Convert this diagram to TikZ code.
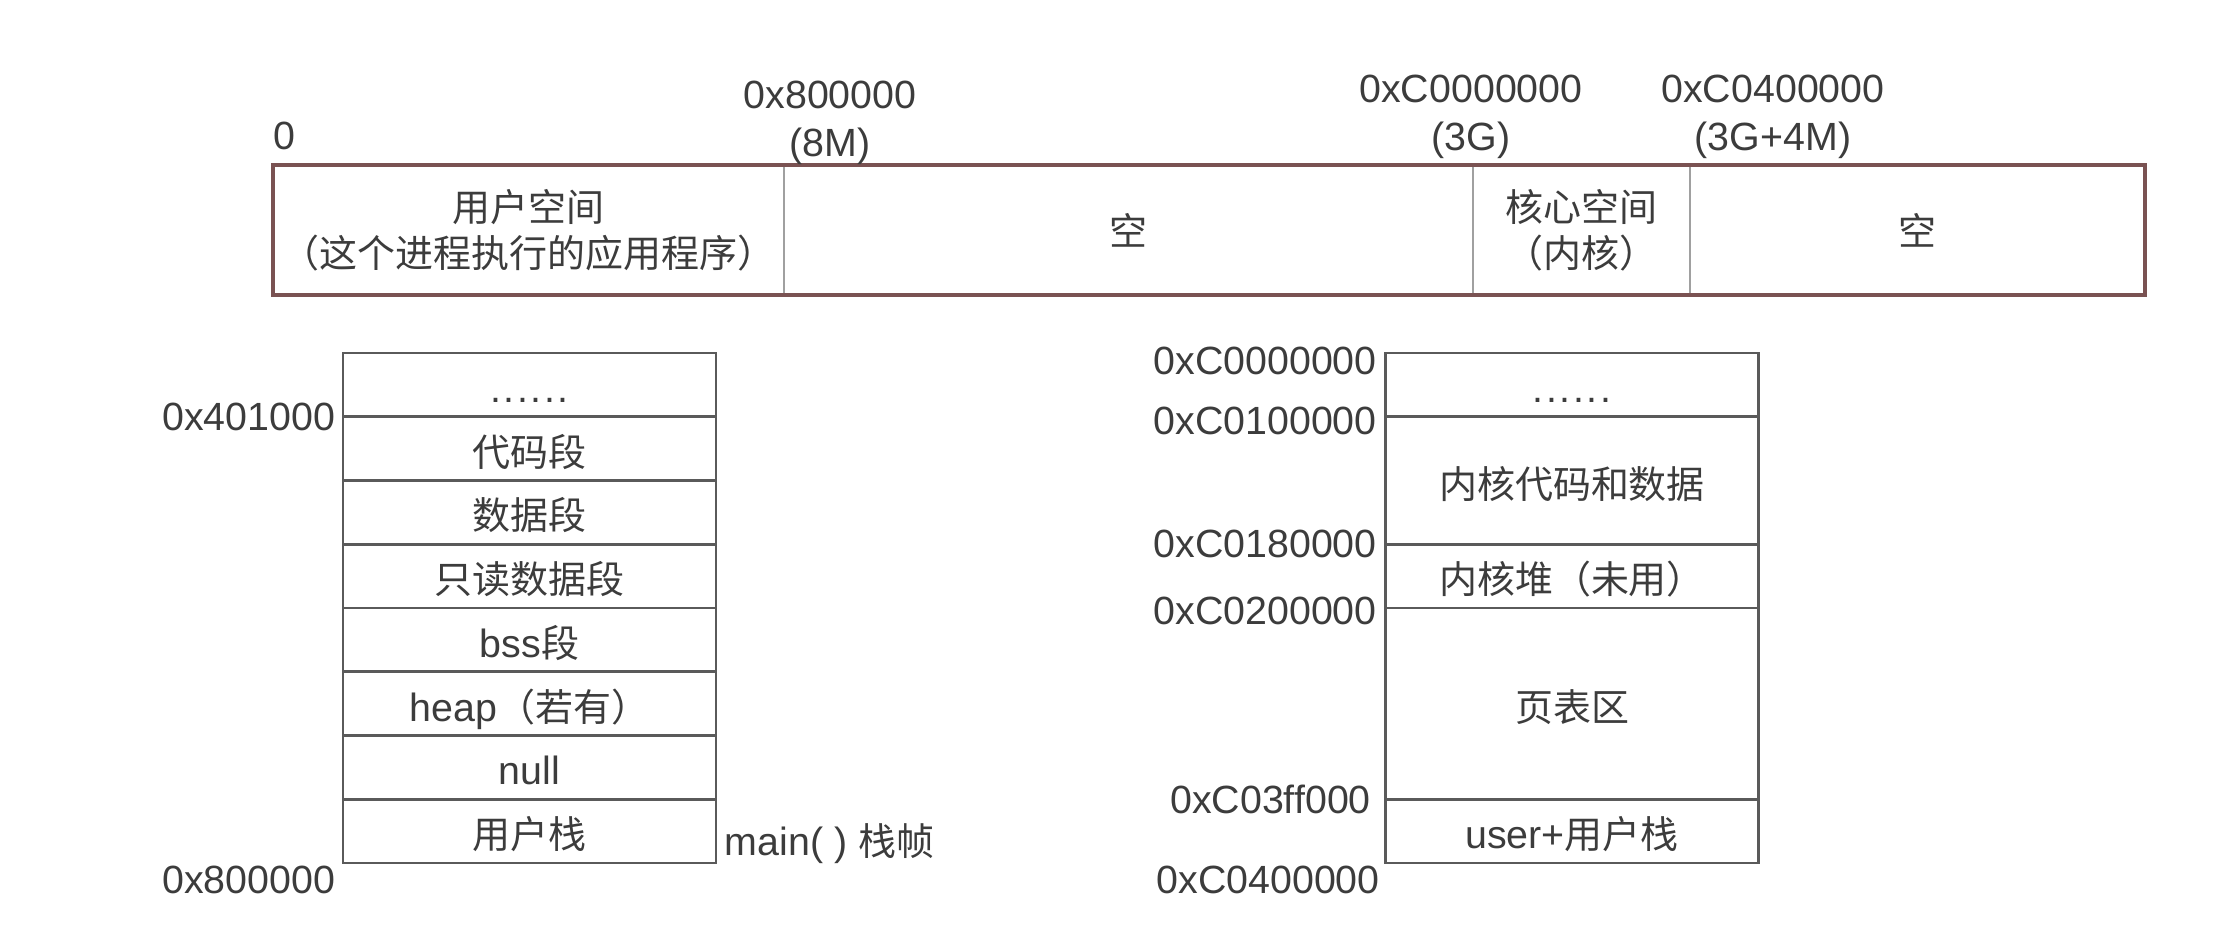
\documentclass[tikz,border=0pt]{standalone}
\usepackage{fontspec}
\setmainfont{Liberation Sans}
\newfontfamily\zhfont{Noto Sans CJK SC}[Scale=0.965]
\usetikzlibrary{positioning}
\definecolor{memText}{HTML}{3C3C3C}
\definecolor{memLine}{HTML}{5A5A5A}
\definecolor{memFrame}{HTML}{7A5252}
\definecolor{memDiv}{HTML}{A0A0A0}
\newcommand{\zh}[1]{{\zhfont #1}}
\newcommand{\gap}{.\kern0.026cm.\kern0.026cm.\kern0.026cm.\kern0.026cm.\kern0.026cm.}
\tikzset{
  barcell/.style={draw=memDiv, line width=0.5pt, minimum height=1.30cm,
        inner sep=0pt, outer sep=0pt, align=center, text=memText,
        font=\fontsize{11.2}{13.2}\selectfont},
  barframe/.style={draw=memFrame, line width=1.2pt},
  seg/.style={draw=memLine, line width=0.8pt, minimum width=3.73cm,
        inner sep=0pt, outer sep=0pt, align=center, text=memText,
        text height=0.38cm, text depth=0.03cm,
        font=\fontsize{11.2}{13}\selectfont},
  addr/.style={anchor=east, inner sep=0pt, text=memText,
        font=\fontsize{11.2}{13}\selectfont},
  toplab/.style={align=center, inner sep=0pt, text=memText,
        font=\fontsize{11.2}{13.6}\selectfont}
}

\begin{document}
\begin{tikzpicture}
\useasboundingbox (0,0) rectangle (22.14,-9.26);

\node[barcell, minimum width=5.11cm] (ucell) at (5.285,-2.30) {\zh{用户空间}\\\zh{（这个进程执行的应用程序）}};
\node[barcell, minimum width=6.89cm, right=0pt of ucell] (void1) {\zh{空}};
\node[barcell, minimum width=2.17cm, right=0pt of void1] (kcell) {\zh{核心空间}\\\zh{（内核）}};
\node[barcell, minimum width=4.55cm, right=0pt of kcell] (void2) {\zh{空}};
\draw[barframe] (ucell.north west) rectangle (void2.south east);

\node[toplab] (a0) at (2.84,-1.36) {0};
\node[toplab] (a8m) at (8.30,-1.227) {0x800000\\(8M)};
\node[toplab] (a3g) at (14.71,-1.166) {0xC0000000\\(3G)};
\node[toplab] (a3g4m) at (17.73,-1.166) {0xC0400000\\(3G+4M)};

\foreach \txt [count=\i] in {\gap, \zh{代码段}, \zh{数据段}, \zh{只读数据段},
    bss\zh{段}, heap\zh{（若有）}, null, \zh{用户栈}}
  \node[seg, minimum height=0.6375cm] (L\i) at (5.295,{-3.53-(\i-0.5)*0.6375}) {\txt};

\node[addr] (a401) at ([xshift=-0.07cm]L1.south west) {0x401000};
\node[addr] (a800) at ([xshift=-0.07cm,yshift=-0.17cm]L8.south west) {0x800000};
\node[anchor=west, inner sep=0pt, text=memText, font=\fontsize{11.2}{13}\selectfont]
  (mainfr) at ([xshift=0.08cm,yshift=0.19cm]L8.south east) {main( ) \zh{栈帧}};

\node[seg, minimum height=0.6375cm] (R1) at (15.72,-3.849) {\gap};
\node[seg, minimum height=1.275cm, below=0pt of R1] (R2) {\zh{内核代码和数据}};
\node[seg, minimum height=0.6375cm, below=0pt of R2] (R3) {\zh{内核堆（未用）}};
\node[seg, minimum height=1.9125cm, below=0pt of R3] (R4) {\zh{页表区}};
\node[seg, minimum height=0.6375cm, below=0pt of R4] (R5) {user+\zh{用户栈}};

\node[addr] (kc0) at ([xshift=-0.08cm,yshift=-0.08cm]R1.north west) {0xC0000000};
\node[addr] (kc1) at ([xshift=-0.08cm,yshift=-0.04cm]R1.south west) {0xC0100000};
\node[addr] (kc18) at ([xshift=-0.08cm]R2.south west) {0xC0180000};
\node[addr] (kc2) at ([xshift=-0.08cm,yshift=-0.03cm]R3.south west) {0xC0200000};
\node[addr] (kc3ff) at ([xshift=-0.14cm]R4.south west) {0xC03ff000};
\node[addr] (kc4) at ([xshift=-0.05cm,yshift=-0.17cm]R5.south west) {0xC0400000};
\end{tikzpicture}
\end{document}
